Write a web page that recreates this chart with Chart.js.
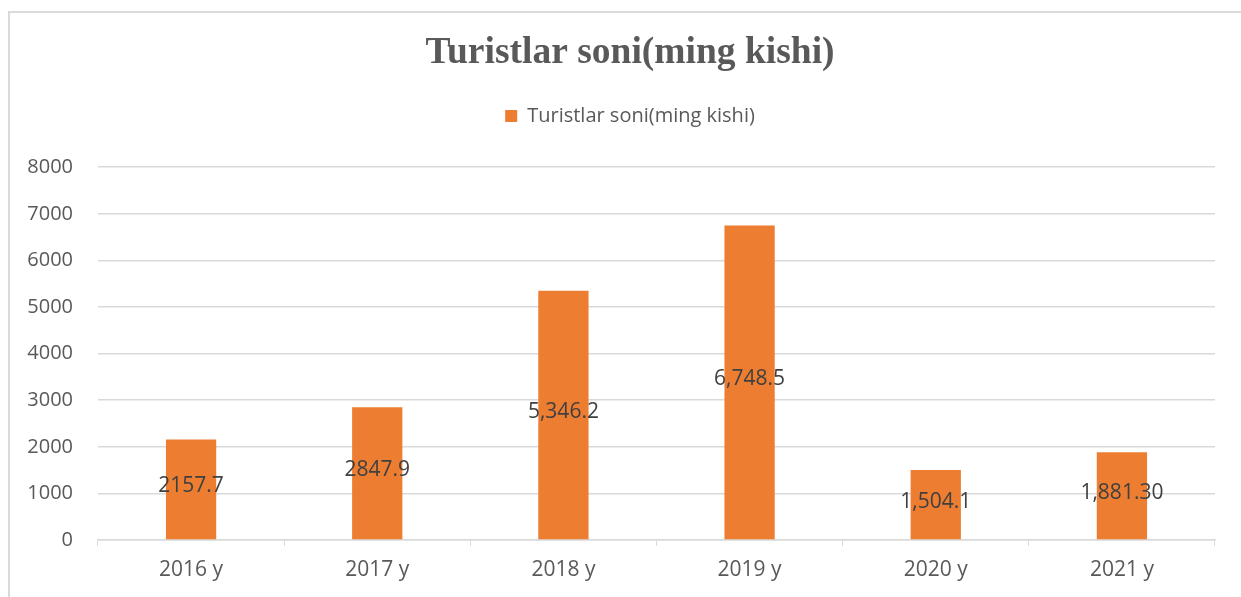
<!DOCTYPE html>
<html>
<head>
<meta charset="utf-8">
<script src="https://cdn.jsdelivr.net/npm/chart.js@4.4.1/dist/chart.umd.min.js"></script>
<style>
  html, body { margin: 0; padding: 0; background: #ffffff; }
  #wrap { width: 1241px; height: 597px; position: relative; }
</style>
</head>
<body>
<div id="wrap"><canvas id="c" width="1241" height="597"></canvas></div>
<script>
const categories = ["2016 y", "2017 y", "2018 y", "2019 y", "2020 y", "2021 y"];
const seriesName = "Turistlar soni(ming kishi)";
const values = [2157.7, 2847.9, 5346.2, 6748.5, 1504.1, 1881.3];
const valueLabels = ["2157.7", "2847.9", "5,346.2", "6,748.5", "1,504.1", "1,881.30"];
const titleText = "Turistlar soni(ming kishi)";
const yMin = 0, yMax = 8000, yStep = 1000;

const frame = {
  id: 'frame',
  beforeDraw(chart) {
    const ctx = chart.ctx;
    ctx.save();
    ctx.fillStyle = '#ffffff';
    ctx.fillRect(0, 0, chart.width, chart.height);
    ctx.strokeStyle = '#d9d9d9';
    ctx.lineWidth = 2;
    ctx.beginPath();
    ctx.moveTo(9, chart.height);
    ctx.lineTo(9, 12);
    ctx.lineTo(chart.width, 12);
    ctx.stroke();
    ctx.restore();
  }
};

// Centre the title and legend on the outer frame (as in the reference)
const shiftHeader = {
  id: 'shiftHeader',
  afterLayout(chart) {
    const dx = 22.5;
    [chart.titleBlock, chart.legend].forEach(b => {
      if (b) { b.left += dx; b.right += dx; }
    });
  }
};

const barLabels = {
  id: 'barLabels',
  afterDatasetsDraw(chart) {
    const ctx = chart.ctx;
    const meta = chart.getDatasetMeta(0);
    ctx.save();
    ctx.font = '21px "Open Sans"';
    ctx.fillStyle = '#404040';
    ctx.textAlign = 'center';
    ctx.textBaseline = 'middle';
    meta.data.forEach((bar, i) => {
      const p = bar.getProps(['x', 'y', 'base'], true);
      ctx.fillText(valueLabels[i], p.x, (p.y + p.base) / 2 - 3);
    });
    ctx.restore();
  }
};

new Chart(document.getElementById('c'), {
  type: 'bar',
  data: {
    labels: categories,
    datasets: [{
      label: seriesName,
      data: values,
      backgroundColor: '#ED7D31',
      borderWidth: 0,
      barPercentage: 0.27,
      categoryPercentage: 1.0
    }]
  },
  options: {
    responsive: false,
    animation: false,
    devicePixelRatio: 1,
    layout: { padding: { left: 0, right: 26, top: 0, bottom: 0 } },
    plugins: {
      title: {
        display: true,
        text: titleText,
        color: '#595959',
        font: { family: '"Liberation Serif", "Times New Roman", serif', size: 37.5, weight: 'bold' },
        padding: { top: 31, bottom: 0 }
      },
      subtitle: {
        display: true,
        text: '',
        weight: 500,
        font: { size: 1 },
        padding: { top: 30, bottom: 0 }
      },
      legend: {
        display: true,
        position: 'top',
        labels: {
          color: '#595959',
          font: { family: '"Open Sans"', size: 20 },
          boxWidth: 12,
          boxHeight: 12,
          padding: 30
        }
      },
      tooltip: { enabled: false }
    },
    scales: {
      x: {
        grid: {
          display: true,
          drawOnChartArea: false,
          drawTicks: true,
          tickLength: 6,
          color: '#d9d9d9',
          offset: true
        },
        border: { display: true, color: '#d9d9d9', width: 1.5 },
        ticks: {
          color: '#595959',
          font: { family: '"Open Sans"', size: 21 },
          padding: 11,
          maxRotation: 0
        },
        afterFit(scale) { scale.height = 57; }
      },
      y: {
        min: yMin,
        max: yMax,
        grid: { color: '#d9d9d9', drawTicks: false, lineWidth: 1.5 },
        border: { display: false },
        ticks: {
          stepSize: yStep,
          color: '#595959',
          font: { family: '"Open Sans"', size: 20 },
          padding: 25,
          callback: (v) => String(v)
        },
        afterFit(scale) { scale.width = 98; }
      }
    }
  },
  plugins: [frame, shiftHeader, barLabels]
});
</script>
</body>
</html>
